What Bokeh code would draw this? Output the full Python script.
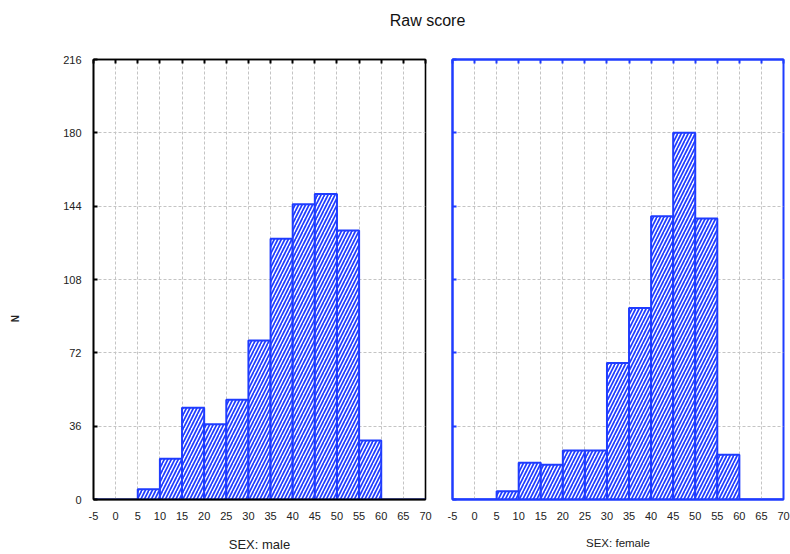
import math
from bokeh.plotting import figure
from bokeh.layouts import column, row
from bokeh.models import (Range1d, FixedTicker, LinearAxis, Label,
                          CustomJSTickFormatter, ColumnDataSource)
from bokeh.embed import file_html
from bokeh.resources import INLINE

# ---- data ----
bin_left = [-5, 0, 5, 10, 15, 20, 25, 30, 35, 40, 45, 50, 55, 60, 65]
bin_width = 5
male_counts = [0, 0, 5, 20, 45, 37, 49, 78, 128, 145, 150, 132, 29, 0, 0]
female_counts = [0, 0, 4, 18, 17, 24, 24, 67, 94, 139, 180, 138, 22, 0, 0]
x_ticks = [-5, 0, 5, 10, 15, 20, 25, 30, 35, 40, 45, 50, 55, 60, 65, 70]
y_ticks = [0, 36, 72, 108, 144, 180, 216]
title_text = "Raw score"
y_label = "N"
panel_labels = ["SEX: male", "SEX: female"]

BLUE = "#1f3cff"
FONT = "Liberation Sans"
blank = CustomJSTickFormatter(code="return ''")
plain = CustomJSTickFormatter(code="return String(tick)")

ROW_H = 518
TITLE_H = 36
N_W = 30


def make_panel(counts, label, frame_color, first, width, border_left, border_right, label_size):
    p = figure(width=width, height=ROW_H, x_range=Range1d(-5, 70), y_range=Range1d(0, 216),
               toolbar_location=None, output_backend="svg",
               min_border_left=border_left, min_border_right=border_right,
               min_border_top=23, min_border_bottom=53,
               outline_line_color=frame_color, outline_line_width=2 if not first else 1.6,
               background_fill_color="white", border_fill_color="white")
    src = ColumnDataSource(dict(left=bin_left,
                                right=[b + bin_width for b in bin_left],
                                top=counts,
                                bottom=[0] * len(counts)))
    p.quad(left="left", right="right", top="top", bottom="bottom", source=src,
           fill_color="white", line_color=BLUE, line_width=2,
           hatch_pattern="/", hatch_color=BLUE, hatch_scale=7, hatch_weight=1.7)

    # grids
    p.xgrid.ticker = FixedTicker(ticks=x_ticks)
    p.ygrid.ticker = FixedTicker(ticks=y_ticks)
    for g in (p.xgrid, p.ygrid):
        g.grid_line_color = "#c4c4c4"
        g.grid_line_dash = "3 2"
        g.grid_line_width = 1

    # x axis
    xa = p.xaxis[0]
    xa.ticker = FixedTicker(ticks=x_ticks)
    xa.formatter = plain
    xa.axis_line_color = frame_color
    xa.axis_line_width = 2
    xa.major_tick_in = 0
    xa.major_tick_out = 0
    xa.minor_tick_line_color = None
    xa.major_label_standoff = 12
    xa.major_label_text_font = FONT
    xa.major_label_text_font_size = "11px"
    xa.major_label_text_color = "#222222"
    xa.axis_label = label
    xa.axis_label_text_font = FONT
    xa.axis_label_text_font_size = label_size
    xa.axis_label_text_font_style = "normal"
    xa.axis_label_text_color = "#222222"
    xa.axis_label_standoff = 14

    # y axis
    ya = p.yaxis[0]
    ya.ticker = FixedTicker(ticks=y_ticks)
    ya.axis_line_color = frame_color
    ya.axis_line_width = 2 if not first else 1.6
    ya.major_tick_in = 4
    ya.major_tick_out = 0
    ya.major_tick_line_color = frame_color
    ya.major_tick_line_width = 2
    ya.minor_tick_line_color = None
    if first:
        ya.formatter = plain
        ya.major_label_standoff = 12
        ya.major_label_text_font = FONT
        ya.major_label_text_font_size = "11px"
        ya.major_label_text_color = "#222222"
    else:
        ya.formatter = blank
        ya.major_label_standoff = 0

    # top ticks
    top = LinearAxis(ticker=FixedTicker(ticks=x_ticks), formatter=blank,
                     major_tick_in=4, major_tick_out=0, major_label_standoff=0,
                     axis_line_color=frame_color, axis_line_width=2 if not first else 1.6,
                     major_tick_line_color=frame_color, major_tick_line_width=2,
                     minor_tick_line_color=None)
    p.add_layout(top, "above")
    return p


p1 = make_panel(male_counts, panel_labels[0], "black", True, 440 - N_W, 93 - N_W, 15, "13px")
p2 = make_panel(female_counts, panel_labels[1], BLUE, False, 350, 12, 7, "11.5px")

# narrow strip holding the rotated "N" axis title (sits below the frame centre as in the original)
nfig = figure(width=N_W, height=ROW_H, x_range=Range1d(0, N_W), y_range=Range1d(0, ROW_H),
              toolbar_location=None, output_backend="svg", min_border=0,
              x_axis_type=None, y_axis_type=None, outline_line_color=None)
nfig.xgrid.visible = False
nfig.ygrid.visible = False
nfig.add_layout(Label(x=15, y=ROW_H - (320 - TITLE_H) - 21, text=y_label, angle=math.pi / 2,
                      text_align="center", text_baseline="middle",
                      text_font=FONT, text_font_size="10px",
                      text_font_style="bold", text_color="#222222"))

t = figure(width=790, height=TITLE_H, x_range=Range1d(0, 790), y_range=Range1d(0, TITLE_H),
           toolbar_location=None, output_backend="svg", min_border=0,
           x_axis_type=None, y_axis_type=None, outline_line_color=None)
t.xgrid.visible = False
t.ygrid.visible = False
t.add_layout(Label(x=427, y=TITLE_H - 20, text=title_text, text_align="center",
                   text_baseline="middle", text_font=FONT, text_font_size="16px",
                   text_color="#111111"))

layout = column(t, row(nfig, p1, p2))
open("out.html", "w").write(file_html(layout, INLINE))
